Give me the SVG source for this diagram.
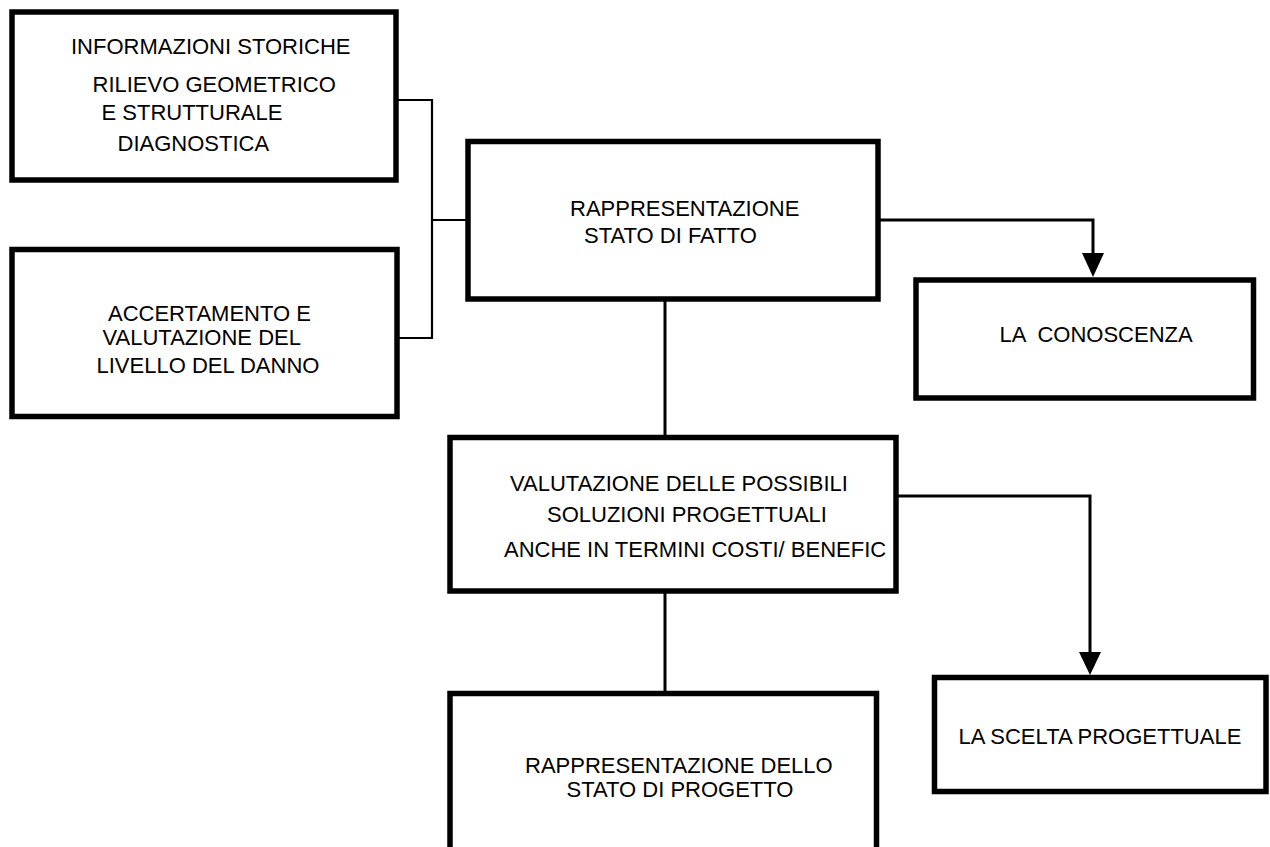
<svg xmlns="http://www.w3.org/2000/svg" width="1270" height="847" viewBox="0 0 1270 847">
<style>
.box{fill:#fff;stroke:#000;stroke-width:5.5}
.t{font-family:"Liberation Sans",Arial,sans-serif;font-size:22px;fill:#000}
.c{fill:none;stroke:#000}
.thin{stroke-width:2.2}
.mid{stroke-width:3}
.ah{fill:#000;stroke:none}
</style>
<rect width="1270" height="847" fill="#fff"/>
<g id="connectors">
<polyline class="c thin" points="396,100 432,100 432,338 397,338"/>
<line class="c thin" x1="432" y1="220" x2="468" y2="220"/>
<polyline class="c mid" points="878,220 1093,220 1093,255"/>
<polygon class="ah" points="1082,253 1104,253 1093,277"/>
<line class="c mid" x1="665" y1="299" x2="665" y2="437.5"/>
<polyline class="c mid" points="896,496 1090,496 1090,654"/>
<polygon class="ah" points="1079,652 1101,652 1090,675"/>
<line class="c mid" x1="665" y1="591" x2="665" y2="693.5"/>
</g>
<g id="n1">
<rect class="box" x="12" y="12" width="384" height="168"/>
<text class="t" x="71" y="54">INFORMAZIONI STORICHE</text>
<text class="t" x="92.5" y="92">RILIEVO GEOMETRICO</text>
<text class="t" x="101.5" y="120">E STRUTTURALE</text>
<text class="t" x="117.5" y="151">DIAGNOSTICA</text>
</g>
<g id="n2">
<rect class="box" x="12" y="249.5" width="385" height="167"/>
<text class="t" x="108" y="321">ACCERTAMENTO E</text>
<text class="t" x="102.5" y="345">VALUTAZIONE DEL</text>
<text class="t" x="96.5" y="373">LIVELLO DEL DANNO</text>
</g>
<g id="n3">
<rect class="box" x="468" y="141.5" width="410" height="157.5"/>
<text class="t" x="570" y="216">RAPPRESENTAZIONE</text>
<text class="t" x="584" y="242.5">STATO DI FATTO</text>
</g>
<g id="n4">
<rect class="box" x="916" y="280" width="337.5" height="118"/>
<text class="t" x="999.5" y="342" xml:space="preserve">LA  CONOSCENZA</text>
</g>
<g id="n5">
<rect class="box" x="450" y="437.5" width="446" height="153.5"/>
<text class="t" x="510" y="491">VALUTAZIONE DELLE POSSIBILI</text>
<text class="t" x="547" y="521.5">SOLUZIONI PROGETTUALI</text>
<text class="t" x="504" y="556.5">ANCHE IN TERMINI COSTI/ BENEFIC</text>
</g>
<g id="n6">
<rect class="box" x="934.5" y="677.5" width="331.5" height="114"/>
<text class="t" x="958.5" y="744">LA SCELTA PROGETTUALE</text>
</g>
<g id="n7">
<rect class="box" x="450" y="693.5" width="426.5" height="180"/>
<text class="t" x="525" y="773">RAPPRESENTAZIONE DELLO</text>
<text class="t" x="566.5" y="797">STATO DI PROGETTO</text>
</g>
</svg>
